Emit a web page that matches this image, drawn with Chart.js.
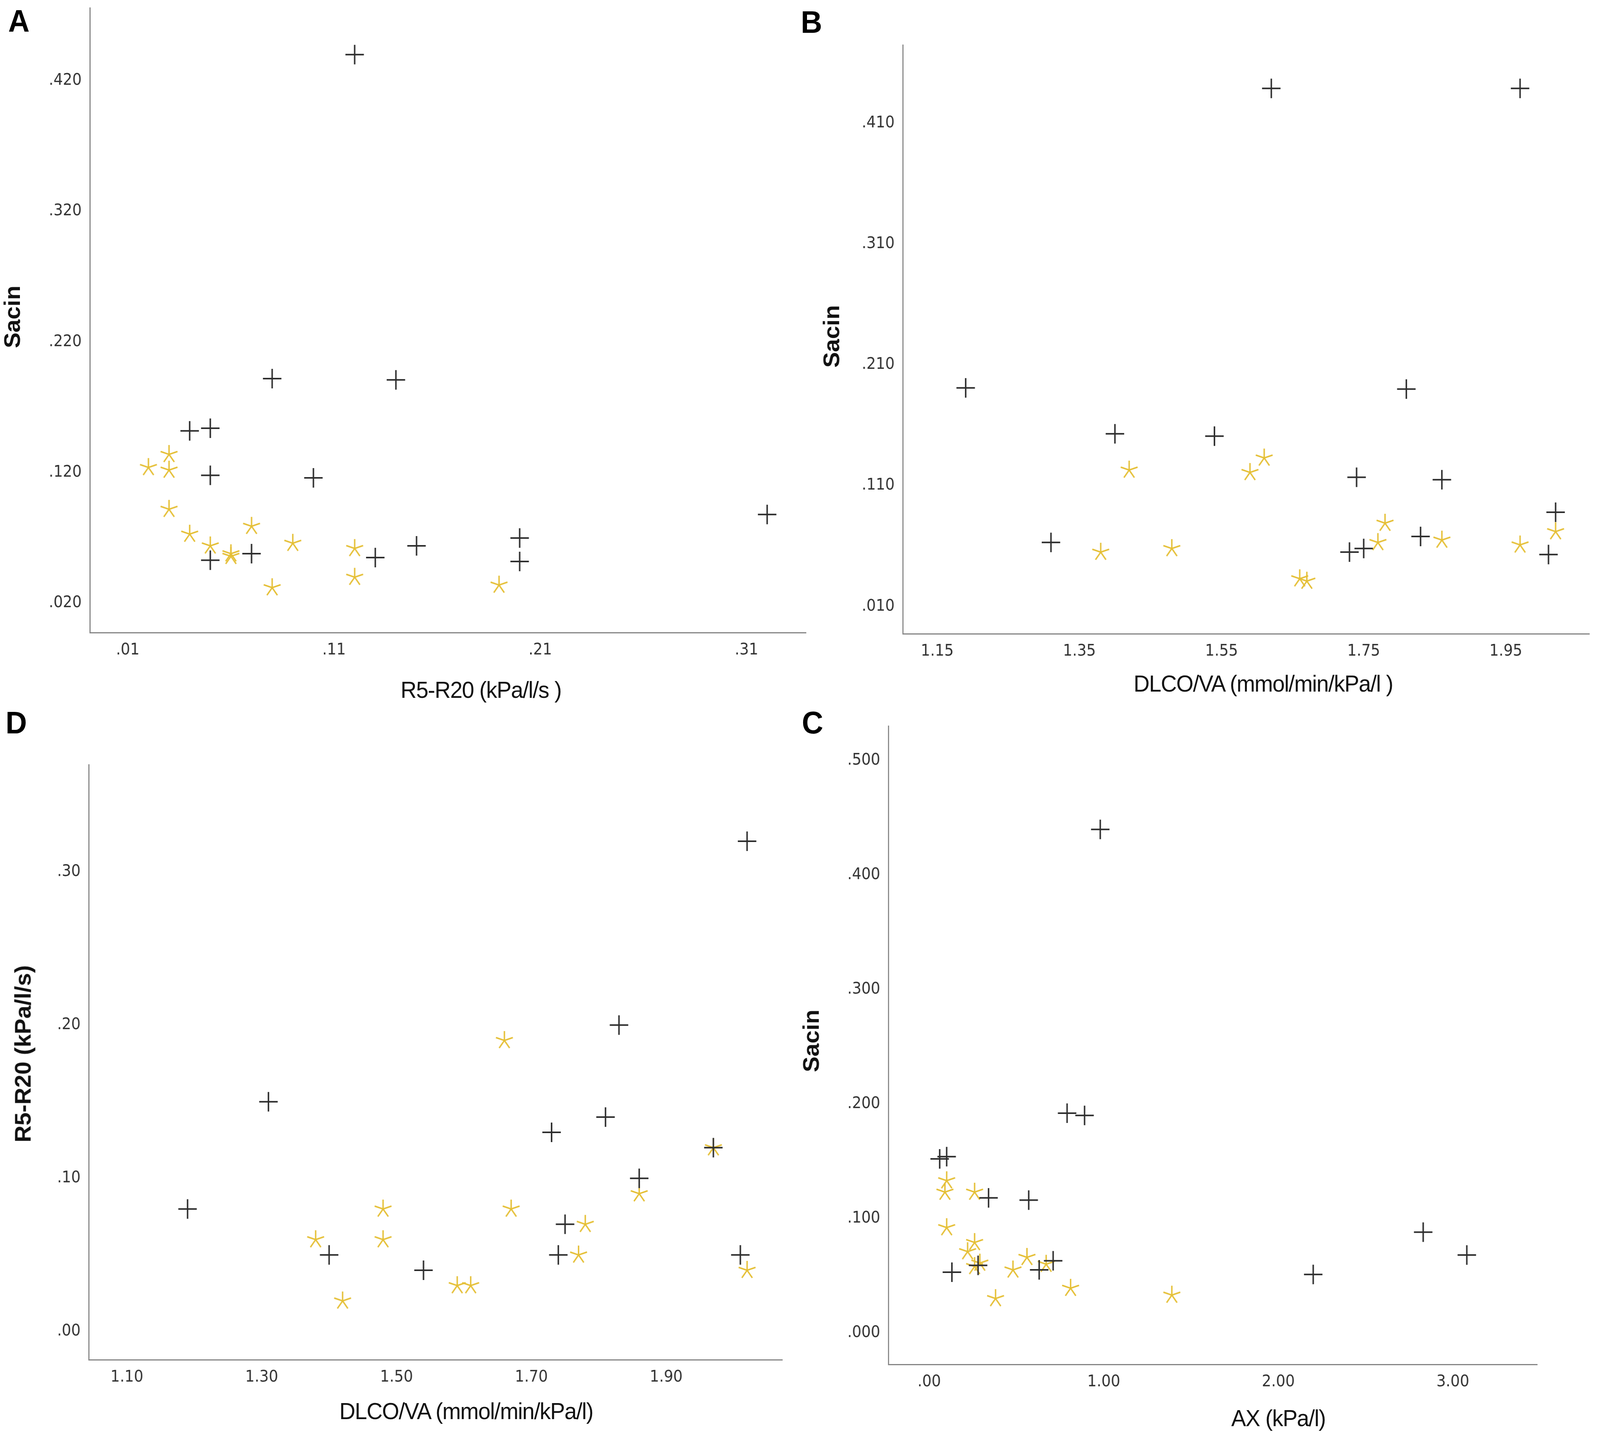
<!DOCTYPE html>
<html><head><meta charset="utf-8">
<script src="https://cdn.jsdelivr.net/npm/chart.js@4.4.0/dist/chart.umd.min.js"></script>
<style>
html,body{margin:0;padding:0;background:#fff;width:100vw;height:100vh;overflow:hidden;}
#stage{position:absolute;left:0;top:0;width:4328px;height:3688px;transform-origin:0 0;background:#fff;}
canvas{position:absolute;}
.t{position:absolute;white-space:nowrap;font-family:"Liberation Sans",Arial,sans-serif;color:#111;line-height:1;transform:translate(-50%,-50%);}
.letter{font-weight:bold;font-size:80px;color:#000;}
.xt{font-size:60px;letter-spacing:-1.5px;}
.yt{font-weight:bold;font-size:60px;transform:translate(-50%,-50%) rotate(-90deg);}
</style></head><body>
<div id="stage">
<canvas id="cA"></canvas><canvas id="cB"></canvas><canvas id="cD"></canvas><canvas id="cC"></canvas>
<div class="t letter" style="left:51px;top:54px">A</div>
<div class="t letter" style="left:2195px;top:57px">B</div>
<div class="t letter" style="left:44px;top:1850px">D</div>
<div class="t letter" style="left:2198px;top:1850px">C</div>
<div class="t yt" style="left:34px;top:811px">Sacin</div>
<div class="t xt" style="left:1301px;top:1766px">R5-R20 (kPa/l/s )</div>
<div class="t yt" style="left:2250px;top:861px">Sacin</div>
<div class="t xt" style="left:3417px;top:1750px">DLCO/VA (mmol/min/kPa/l )</div>
<div class="t yt" style="left:63px;top:2697px">R5-R20 (kPa/l/s)</div>
<div class="t xt" style="left:1261px;top:3612px">DLCO/VA (mmol/min/kPa/l)</div>
<div class="t yt" style="left:2195px;top:2664px">Sacin</div>
<div class="t xt" style="left:3458px;top:3630px">AX (kPa/l)</div>
</div>
<script>
// ---------- Panel A: Sacin vs R5-R20 ----------
const aCrossX = [0.12,0.08,0.14,0.04,0.05,0.05,0.10,0.32,0.20,0.15,0.07,0.13,0.05,0.20];
const aCrossY = [0.440,0.192,0.191,0.152,0.154,0.118,0.116,0.088,0.070,0.064,0.058,0.055,0.053,0.052];
const aStarX  = [0.02,0.03,0.03,0.03,0.04,0.05,0.06,0.06,0.07,0.09,0.08,0.12,0.12,0.19];
const aStarY  = [0.124,0.134,0.122,0.092,0.073,0.064,0.058,0.056,0.079,0.066,0.032,0.062,0.040,0.034];
const aXTicks = [0.01,0.11,0.21,0.31];
const aXLabels = ['.01','.11','.21','.31'];
const aYTicks = [0.02,0.12,0.22,0.32,0.42];
const aYLabels = ['.020','.120','.220','.320','.420'];

// ---------- Panel B: Sacin vs DLCO/VA ----------
const bCrossX = [1.62,1.97,1.19,1.81,1.40,1.54,1.74,1.86,2.02,1.31,1.83,1.73,1.75,2.01];
const bCrossY = [0.439,0.439,0.191,0.190,0.153,0.151,0.117,0.115,0.088,0.063,0.068,0.055,0.058,0.053];
const bStarX  = [1.42,1.59,1.61,1.78,1.77,1.86,1.97,2.02,1.38,1.48,1.66,1.67];
const bStarY  = [0.123,0.121,0.133,0.079,0.063,0.065,0.061,0.072,0.055,0.058,0.033,0.031];
const bXTicks = [1.15,1.35,1.55,1.75,1.95];
const bXLabels = ['1.15','1.35','1.55','1.75','1.95'];
const bYTicks = [0.01,0.11,0.21,0.31,0.41];
const bYLabels = ['.010','.110','.210','.310','.410'];

// ---------- Panel D: R5-R20 vs DLCO/VA ----------
const dCrossX = [2.02,1.83,1.31,1.81,1.73,1.97,1.86,1.19,1.75,1.40,1.74,2.01,1.54];
const dCrossY = [0.32,0.20,0.15,0.14,0.13,0.12,0.10,0.08,0.07,0.05,0.05,0.05,0.04];
const dStarX  = [1.66,1.97,1.86,1.48,1.67,1.78,1.38,1.48,1.77,2.02,1.59,1.61,1.42];
const dStarY  = [0.19,0.12,0.09,0.08,0.08,0.07,0.06,0.06,0.05,0.04,0.03,0.03,0.02];
const dXTicks = [1.10,1.30,1.50,1.70,1.90];
const dXLabels = ['1.10','1.30','1.50','1.70','1.90'];
const dYTicks = [0.00,0.10,0.20,0.30];
const dYLabels = ['.00','.10','.20','.30'];

// ---------- Panel C: Sacin vs AX ----------
const cCrossX = [0.98,0.79,0.89,0.06,0.10,0.34,0.57,2.83,3.08,2.20,0.13,0.28,0.63,0.71];
const cCrossY = [0.440,0.192,0.190,0.152,0.154,0.118,0.116,0.088,0.068,0.051,0.053,0.059,0.055,0.063];
const cStarX  = [0.10,0.09,0.26,0.10,0.26,0.22,0.29,0.26,0.56,0.48,0.67,0.38,0.81,1.39];
const cStarY  = [0.133,0.123,0.123,0.092,0.079,0.071,0.061,0.058,0.066,0.055,0.060,0.030,0.039,0.033];
const cXTicks = [0,1,2,3];
const cXLabels = ['.00','1.00','2.00','3.00'];
const cYTicks = [0,0.1,0.2,0.3,0.4,0.5];
const cYLabels = ['.000','.100','.200','.300','.400','.500'];

const CROSS_COLOR = '#2e2e2e';
const STAR_COLOR = '#E5BF35';

// fit the 4328x3688 stage into whatever viewport the page gets
const stage = document.getElementById('stage');
const sx = window.innerWidth / 4328, sy = window.innerHeight / 3688;
stage.style.transform = 'scale(' + sx + ',' + sy + ')';

function makeStar(color){
  const c = document.createElement('canvas');
  c.width = 58; c.height = 58;
  const g = c.getContext('2d');
  g.strokeStyle = color; g.lineWidth = 3.8; g.lineCap = 'butt';
  g.beginPath();
  for (let k = 0; k < 5; k++) {
    const a = -Math.PI/2 + k*2*Math.PI/5;
    g.moveTo(29,29);
    g.lineTo(29 + 24*Math.cos(a), 29 + 24*Math.sin(a));
  }
  g.stroke();
  return c;
}
const starImg = makeStar(STAR_COLOR);

function panel(id, geo, xr, yr, xT, xL, yT, yL, cx, cy, sx2, sy2){
  const YW = 200, XH = 140, PT = 70;
  const PR = Math.min(20, 4328 - geo.R);
  const cv = document.getElementById(id);
  const w = geo.R - geo.L + YW + PR, h = geo.B - geo.T + PT + XH;
  cv.width = w; cv.height = h;
  cv.style.left = (geo.L - YW) + 'px'; cv.style.top = (geo.T - PT) + 'px';
  cv.style.width = w + 'px'; cv.style.height = h + 'px';
  const tickFont = {family:'DejaVu Sans', size:40};
  new Chart(cv, {
    type: 'scatter',
    data: {datasets: [
      {data: cx.map((x,i)=>({x:x, y:cy[i]})), pointStyle:'cross', pointRadius:25, pointHoverRadius:25,
       pointBorderWidth:4, borderColor:CROSS_COLOR, backgroundColor:CROSS_COLOR},
      {data: sx2.map((x,i)=>({x:x, y:sy2[i]})), pointStyle:starImg, pointRadius:25, pointHoverRadius:25,
       borderColor:STAR_COLOR, backgroundColor:STAR_COLOR}
    ]},
    options: {
      responsive:false, animation:false, devicePixelRatio:1, events:[],
      layout: {padding:{top:PT, right:PR, left:0, bottom:0}},
      plugins: {legend:{display:false}, tooltip:{enabled:false}, title:{display:false}},
      scales: {
        x: {type:'linear', min:xr[0], max:xr[1],
            grid:{display:false, drawTicks:false},
            border:{display:true, color:'#858585', width:3},
            afterBuildTicks: s => { s.ticks = xT.map(v=>({value:v})); },
            afterFit: s => { s.height = XH; },
            ticks:{padding:22, font:tickFont, color:'#333333', maxRotation:0, autoSkip:false,
                   callback:(v,i)=>xL[i]}},
        y: {type:'linear', min:yr[0], max:yr[1],
            grid:{display:false, drawTicks:false},
            border:{display:true, color:'#858585', width:3},
            afterBuildTicks: s => { s.ticks = yT.map(v=>({value:v})); },
            afterFit: s => { s.width = YW; },
            ticks:{padding:22, font:tickFont, color:'#333333', autoSkip:false,
                   callback:(v,i)=>yL[i]}}
      }
    }
  });
}

panel('cA', {L:243, T:20, R:2189, B:1619}, [-0.0084,0.3388], [-0.0024,0.4758],
      aXTicks, aXLabels, aYTicks, aYLabels, aCrossX, aCrossY, aStarX, aStarY);
panel('cB', {L:2442, T:115, R:4320, B:1622}, [1.1015,2.0674], [-0.0126,0.475],
      bXTicks, bXLabels, bYTicks, bYLabels, bCrossX, bCrossY, bStarX, bStarY);
panel('cD', {L:240, T:1957, R:2125, B:3480}, [1.0434,2.0722], [-0.0184,0.370],
      dXTicks, dXLabels, dYTicks, dYLabels, dCrossX, dCrossY, dStarX, dStarY);
panel('cC', {L:2403, T:1858, R:4167, B:3492}, [-0.234,3.483], [-0.0276,0.5304],
      cXTicks, cXLabels, cYTicks, cYLabels, cCrossX, cCrossY, cStarX, cStarY);
</script>
</body></html>
